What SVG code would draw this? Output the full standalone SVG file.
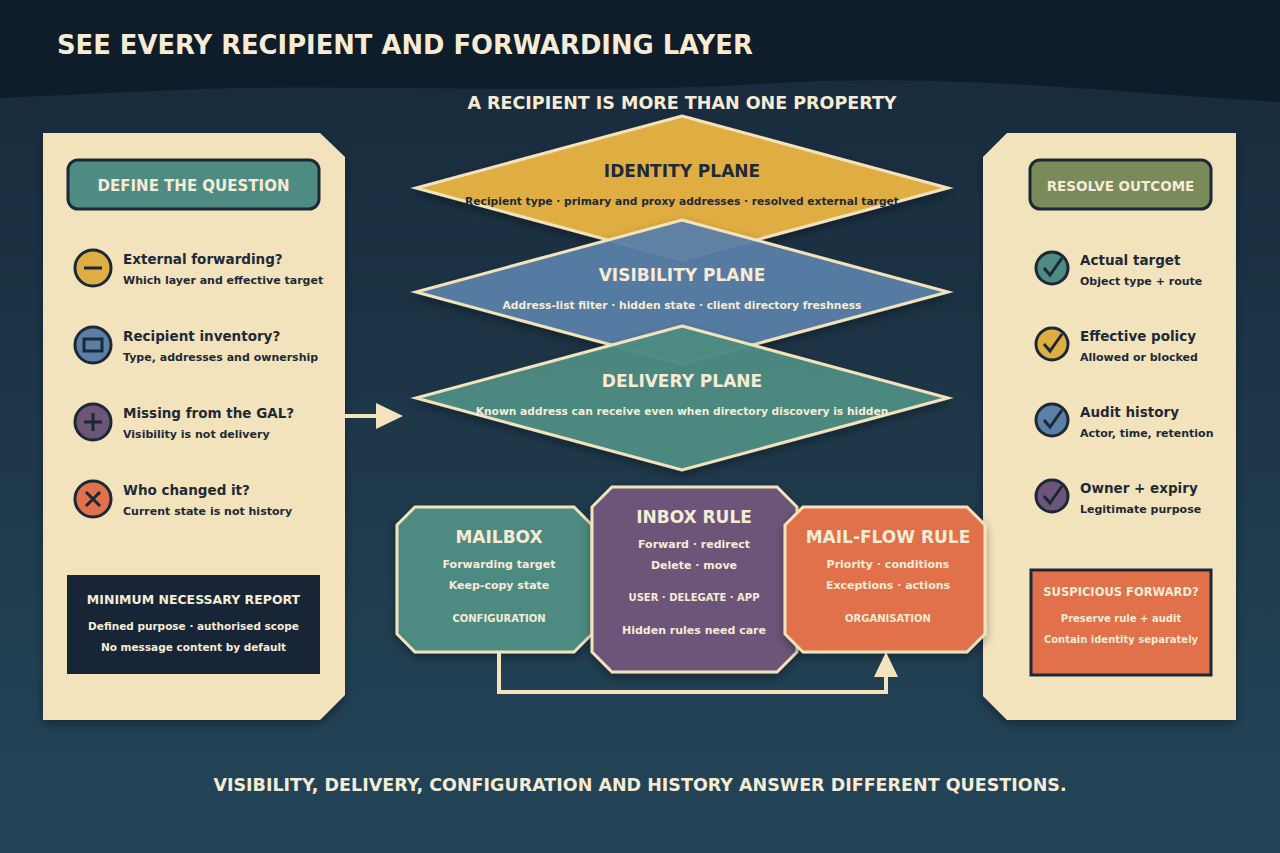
<svg xmlns="http://www.w3.org/2000/svg" width="1280" height="853" viewBox="0 0 1280 853">
<defs>
<linearGradient id="bg" x1="0" y1="0" x2="0" y2="1"><stop offset="0" stop-color="#18293a"/><stop offset="1" stop-color="#234558"/></linearGradient>
<filter id="sh" x="-10%" y="-10%" width="120%" height="130%"><feDropShadow dx="0" dy="4" stdDeviation="5" flood-color="#000" flood-opacity="0.35"/></filter>
</defs>
<style>
text{font-family:"DejaVu Sans","Liberation Sans",sans-serif;font-weight:bold}
.panel{fill:#f3e3bd}
.t{fill:#1e2a36;font-size:13.5px}
.s{fill:#1e2a36;font-size:11px}
.w{fill:#f6ecd6}
.c{text-anchor:middle}
.ic{stroke:#1b2836;stroke-width:3}
.box{stroke:#f3e3bd;stroke-width:3}
</style>
<rect width="1280" height="853" fill="url(#bg)"/>
<path d="M0 0H1280V102C1100 92 950 72 760 84C560 96 360 82 180 90C100 93 40 96 0 98Z" fill="#0f1d2a"/>
<text x="57" y="54" class="w" font-size="25.8">SEE EVERY RECIPIENT AND FORWARDING LAYER</text>
<text x="682" y="109" class="w c" font-size="17.5">A RECIPIENT IS MORE THAN ONE PROPERTY</text>
<text x="640" y="791" class="w c" font-size="17.5">VISIBILITY, DELIVERY, CONFIGURATION AND HISTORY ANSWER DIFFERENT QUESTIONS.</text>

<g id="left-panel">
<path class="panel" d="M43 133H320L345 157V695L320 720H43Z" filter="url(#sh)"/>
<rect x="68" y="160" width="251" height="49" rx="10" fill="#4e8b82" stroke="#1b2836" stroke-width="3"/>
<text x="193.5" y="191" class="w c" font-size="15">DEFINE THE QUESTION</text>
<circle cx="93" cy="268" r="18" fill="#e0ad43" class="ic"/><line x1="84" y1="268" x2="102" y2="268" class="ic"/>
<text x="123" y="264" class="t">External forwarding?</text><text x="123" y="284" class="s">Which layer and effective target</text>
<circle cx="93" cy="345" r="18" fill="#5a80a8" class="ic"/><rect x="84" y="339" width="18" height="12" fill="none" class="ic"/>
<text x="123" y="341" class="t">Recipient inventory?</text><text x="123" y="361" class="s">Type, addresses and ownership</text>
<circle cx="93" cy="422" r="18" fill="#6c5578" class="ic"/><path d="M84 422H102M93 413V431" class="ic"/>
<text x="123" y="418" class="t">Missing from the GAL?</text><text x="123" y="438" class="s">Visibility is not delivery</text>
<circle cx="93" cy="499" r="18" fill="#e0714b" class="ic"/><path d="M86 492L100 506M100 492L86 506" class="ic"/>
<text x="123" y="495" class="t">Who changed it?</text><text x="123" y="515" class="s">Current state is not history</text>
<rect x="67" y="575" width="253" height="99" fill="#172536"/>
<text x="193.5" y="604" class="w c" font-size="12.5">MINIMUM NECESSARY REPORT</text>
<text x="193.5" y="630" class="w c" font-size="10.5">Defined purpose · authorised scope</text>
<text x="193.5" y="651" class="w c" font-size="10.5">No message content by default</text>
</g>

<g id="right-panel">
<path class="panel" d="M1007 133H1236V720H1007L983 696V157Z" filter="url(#sh)"/>
<rect x="1030" y="160" width="181" height="49" rx="10" fill="#7a8a5a" stroke="#1b2836" stroke-width="3"/>
<text x="1120.5" y="191" class="w c" font-size="13.5">RESOLVE OUTCOME</text>
<g fill="none"><circle cx="1052" cy="268" r="16" fill="#4e8b82" class="ic"/><path d="M1044 268L1050 275L1062 258" class="ic"/>
<circle cx="1052" cy="344" r="16" fill="#e0ad43" class="ic"/><path d="M1044 344L1050 351L1062 334" class="ic"/>
<circle cx="1052" cy="420" r="16" fill="#5a80a8" class="ic"/><path d="M1044 420L1050 427L1062 410" class="ic"/>
<circle cx="1052" cy="496" r="16" fill="#6c5578" class="ic"/><path d="M1044 496L1050 503L1062 486" class="ic"/></g>
<text x="1080" y="265" class="t">Actual target</text><text x="1080" y="285" class="s">Object type + route</text>
<text x="1080" y="341" class="t">Effective policy</text><text x="1080" y="361" class="s">Allowed or blocked</text>
<text x="1080" y="417" class="t">Audit history</text><text x="1080" y="437" class="s">Actor, time, retention</text>
<text x="1080" y="493" class="t">Owner + expiry</text><text x="1080" y="513" class="s">Legitimate purpose</text>
<rect x="1031" y="570" width="180" height="105" fill="#e0714b" stroke="#1b2836" stroke-width="3"/>
<text x="1121" y="596" class="w c" font-size="11.5">SUSPICIOUS FORWARD?</text>
<text x="1121" y="622" class="w c" font-size="10">Preserve rule + audit</text>
<text x="1121" y="643" class="w c" font-size="10">Contain identity separately</text>
</g>

<g id="identity-plane">
<polygon points="682,116 948,188 682,260 416,188" fill="#e0ad43" class="box" filter="url(#sh)"/>
<text x="682" y="177" class="c" fill="#1e2a36" font-size="17">IDENTITY PLANE</text>
<text x="682" y="205" class="c" fill="#1e2a36" font-size="10.7">Recipient type · primary and proxy addresses · resolved external target</text>
</g>
<g id="visibility-plane">
<polygon points="682,220 948,292 682,364 416,292" fill="#5a80a8" fill-opacity="0.93" class="box" filter="url(#sh)"/>
<text x="682" y="281" class="w c" font-size="17">VISIBILITY PLANE</text>
<text x="682" y="309" class="w c" font-size="10.7">Address-list filter · hidden state · client directory freshness</text>
</g>
<g id="delivery-plane">
<polygon points="682,326 948,398 682,470 416,398" fill="#4e8b82" fill-opacity="0.95" class="box" filter="url(#sh)"/>
<text x="682" y="387" class="w c" font-size="17">DELIVERY PLANE</text>
<text x="682" y="415" class="w c" font-size="10.7">Known address can receive even when directory discovery is hidden</text>
</g>

<g id="mailbox">
<polygon points="415,507 574,507 592,525 592,634 574,652 415,652 397,634 397,525" fill="#4e8b82" class="box" filter="url(#sh)"/>
<text x="499" y="543" class="w c" font-size="17">MAILBOX</text>
<text x="499" y="568" class="w c" font-size="11">Forwarding target</text>
<text x="499" y="589" class="w c" font-size="11">Keep-copy state</text>
<text x="499" y="622" class="w c" font-size="10">CONFIGURATION</text>
</g>
<g id="inbox-rule">
<polygon points="612,487 777,487 797,507 797,652 777,672 612,672 592,652 592,507" fill="#6c5578" class="box" filter="url(#sh)"/>
<text x="694" y="523" class="w c" font-size="17">INBOX RULE</text>
<text x="694" y="548" class="w c" font-size="11">Forward · redirect</text>
<text x="694" y="569" class="w c" font-size="11">Delete · move</text>
<text x="694" y="601" class="w c" font-size="10">USER · DELEGATE · APP</text>
<text x="694" y="634" class="w c" font-size="11">Hidden rules need care</text>
</g>
<g id="mail-flow-rule">
<polygon points="803,507 967,507 985,525 985,634 967,652 803,652 785,634 785,525" fill="#e0714b" class="box" filter="url(#sh)"/>
<text x="888" y="543" class="w c" font-size="17">MAIL-FLOW RULE</text>
<text x="888" y="568" class="w c" font-size="11">Priority · conditions</text>
<text x="888" y="589" class="w c" font-size="11">Exceptions · actions</text>
<text x="888" y="622" class="w c" font-size="10">ORGANISATION</text>
</g>

<g id="connectors" fill="none" stroke="#f3e3bd" stroke-width="4">
<line x1="345" y1="416" x2="380" y2="416"/>
<polygon points="376,403 403,416 376,429" fill="#f3e3bd" stroke="none"/>
<polyline points="499,653 499,692 886,692 886,675"/>
<polygon points="874,677 886,652 898,677" fill="#f3e3bd" stroke="none"/>
</g>
</svg>
